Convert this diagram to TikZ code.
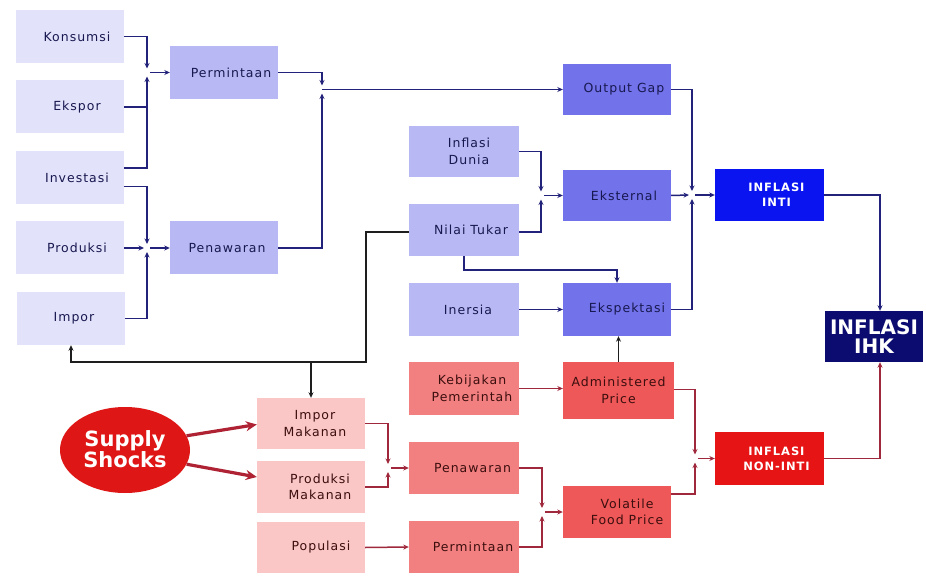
\documentclass[tikz,border=0pt]{standalone}
\usepackage{fontspec}
\setmainfont{DejaVu Sans}[LetterSpace=8]
\newfontfamily\bigfont{DejaVu Sans}
\usetikzlibrary{arrows.meta,calc,shapes.geometric}
\definecolor{lavA}{RGB}{226,226,250}
\definecolor{lavB}{RGB}{184,184,244}
\definecolor{lavC}{RGB}{114,114,234}
\definecolor{intiC}{RGB}{10,20,240}
\definecolor{ihkC}{RGB}{12,12,112}
\definecolor{pinkA}{RGB}{250,198,198}
\definecolor{pinkB}{RGB}{242,128,128}
\definecolor{pinkC}{RGB}{238,88,88}
\definecolor{nonC}{RGB}{230,20,20}
\definecolor{shockC}{RGB}{222,22,22}
\definecolor{navyT}{RGB}{24,24,80}
\definecolor{navyL}{RGB}{34,34,122}
\definecolor{redT}{RGB}{60,14,14}
\definecolor{redL}{RGB}{160,40,60}
\definecolor{darkL}{RGB}{30,30,30}
\newcommand\tin{\hspace*{14pt}}
\begin{document}
\begin{tikzpicture}[x=1pt,y=-1pt,
  box/.style={rectangle, inner sep=0pt, minimum width=108pt, minimum height=53pt,
    align=center, font=\fontsize{12.5}{16.5}\selectfont},
  lbox/.style={box, fill=lavA, text=navyT},
  mbox/.style={box, fill=lavB, text=navyT},
  dbox/.style={box, fill=lavC, text=navyT},
  ibox/.style={box, fill=intiC, text=white, font=\fontsize{11.5}{15}\selectfont\bfseries},
  hbox/.style={box, fill=ihkC, text=white, minimum width=98pt, minimum height=51pt,
    font=\bigfont\fontsize{20}{19}\selectfont\bfseries},
  pa/.style={box, fill=pinkA, text=redT},
  pb/.style={box, fill=pinkB, text=redT},
  pc/.style={box, fill=pinkC, text=redT},
  nbox/.style={box, fill=nonC, text=white, font=\fontsize{11.5}{15}\selectfont\bfseries},
  conn/.style={draw=navyL, line width=1.5pt, -{Stealth[length=5.5pt,width=5pt]}},
  rconn/.style={draw=redL, line width=1.5pt, -{Stealth[length=5.5pt,width=5pt]}},
  kconn/.style={draw=darkL, line width=1.5pt, -{Stealth[length=5.5pt,width=5pt]}},
  sarrow/.style={draw=redL!85!red, line width=3.2pt, -{Stealth[length=11pt,width=10pt]}}
]
\useasboundingbox (0,0) rectangle (926,577);
\fill[white] (0,0) rectangle (926,577);

% left column
\node[lbox] (kons) at (70,36.5) {\tin Konsumsi};
\node[lbox] (eksp) at (70,107) {\tin Ekspor};
\node[lbox] (inv) at (70,177.5) {\tin Investasi};
\node[lbox] (prod) at (70,248) {\tin Produksi};
\node[lbox] (impor) at (71,318.5) {\hspace*{6pt}Impor};

\node[mbox] (perm) at (224,72.5) {\tin Permintaan};
\node[mbox] (pen) at (224,248) {\hspace*{6pt}Penawaran};

\node[mbox, minimum width=110pt, minimum height=51pt] (infd) at (464,151.5) {\hspace*{10pt}Inflasi\\\hspace*{10pt}Dunia};
\node[mbox, minimum width=110pt, minimum height=52pt] (nilai) at (464,230) {\tin Nilai Tukar};
\node[mbox, minimum width=110pt] (iners) at (464,309.5) {\hspace*{8pt}Inersia};

\node[dbox, minimum height=51pt] (outgap) at (617,89.5) {\tin Output Gap};
\node[dbox, minimum height=51pt] (ekst) at (617,195.5) {\tin Eksternal};
\node[dbox] (ekspk) at (617,309.5) {\hspace*{20pt}Ekspektasi};

\node[ibox, minimum width=109pt, minimum height=52pt] (inti) at (769.5,195) {\tin INFLASI\\\tin INTI};
\node[hbox] (ihk) at (874,336.5) {INFLASI\\IHK};

% bottom part
\node[ellipse, fill=shockC, minimum width=130pt, minimum height=86pt, inner sep=0pt,
  text=white, align=center, font=\bigfont\fontsize{21}{20}\selectfont\bfseries] (shock) at (125,450) {\\[-6pt]Supply\\Shocks};

\node[pa, minimum height=51pt] (impmak) at (311,423.5) {\hspace*{8pt}Impor\\\hspace*{8pt}Makanan};
\node[pa, minimum height=52pt] (prodmak) at (311,487) {\hspace*{18pt}Produksi\\\hspace*{18pt}Makanan};
\node[pa, minimum height=51pt] (popul) at (311,547.5) {\hspace*{20pt}Populasi};

\node[pb, minimum width=110pt] (kebij) at (464,388.5) {\hspace*{16pt}Kebijakan\\\hspace*{16pt}Pemerintah};
\node[pb, minimum width=110pt, minimum height=52pt] (penR) at (464,468) {\hspace*{17pt}Penawaran};
\node[pb, minimum width=110pt, minimum height=52pt] (permR) at (464,547) {\hspace*{18pt}Permintaan};

\node[pc, minimum width=111pt, minimum height=57pt] (admin) at (618.5,390.5) {Administered\\Price};
\node[pc, minimum height=52pt] (vol) at (617,512) {\hspace*{20pt}Volatile\\\hspace*{20pt}Food Price};

\node[nbox, minimum width=109pt] (nonint) at (769.5,458.5) {\tin INFLASI\\\tin NON-INTI};

% junctions
\coordinate (J1) at (147,72.5);
\coordinate (J2) at (147,248);
\coordinate (J3) at (322,89.5);
\coordinate (J4) at (541,195.5);
\coordinate (J5) at (692,195);
\coordinate (J6) at (388,468);
\coordinate (J7) at (542,512);
\coordinate (J8) at (695,458.5);
\coordinate (nt1) at (464,270);
\coordinate (n1) at (366,362);

% top connectors
\draw[conn] (kons.east) -| ($(J1)+(0,-4)$);
\draw[conn] (eksp.east) -| ($(J1)+(0,4)$);
\draw[conn,-] ([yshift=9.5pt]inv.east) -| (J1 |- eksp.east);
\draw[conn] ([xshift=3pt]J1) -- (perm.west);

\draw[conn] ([yshift=-9pt]inv.east) -| ($(J2)+(0,-4)$);
\draw[conn] (prod.east) -- ($(J2)+(-3,0)$);
\draw[conn] (impor.east) -| ($(J2)+(0,4)$);
\draw[conn] ([xshift=3pt]J2) -- (pen.west);

\draw[conn] (perm.east) -| ($(J3)+(0,-4)$);
\draw[conn] (pen.east) -| ($(J3)+(0,4)$);
\draw[conn] (J3) -- (outgap.west);

\draw[conn] (infd.east) -| ($(J4)+(0,-4)$);
\draw[conn] ([yshift=-2pt]nilai.east) -| ($(J4)+(0,4)$);
\draw[conn] ([xshift=3pt]J4) -- (ekst.west);

\draw[conn] (nilai.south) -- (nt1) -| (ekspk.north);
\draw[conn] (iners.east) -- (ekspk.west);

\draw[conn] (outgap.east) -| ($(J5)+(0,-4)$);
\draw[conn] (ekst.east) -- ($(J5)+(-3,0)$);
\draw[conn] (ekspk.east) -| ($(J5)+(0,4)$);
\draw[conn] ([xshift=3pt]J5) -- (inti.west);

\draw[conn] (inti.east) -| ([xshift=6pt]ihk.north);

% link from Nilai Tukar to imports
\draw[kconn] ([yshift=-2pt]nilai.west) -| (n1) -| (impor.south);
\draw[kconn] (impmak.north |- n1) -- (impmak.north);

% supply shocks
\draw[sarrow] (shock.13) -- ([yshift=-1pt]impmak.west);
\draw[sarrow] (shock.-13) -- ([yshift=10pt]prodmak.west);

% bottom connectors
\draw[rconn] (impmak.east) -| ($(J6)+(0,-4)$);
\draw[rconn] (prodmak.east) -| ($(J6)+(0,4)$);
\draw[rconn] ([xshift=3pt]J6) -- (penR.west);
\draw[rconn] (popul.east) -- (permR.west);
\draw[rconn] (kebij.east) -- (kebij.east -| admin.west);

\draw[rconn] (penR.east) -| ($(J7)+(0,-4)$);
\draw[rconn] (permR.east) -| ($(J7)+(0,4)$);
\draw[rconn] ([xshift=3pt]J7) -- (vol.west);

\draw[rconn] ([yshift=1pt]admin.east) -| ($(J8)+(0,-4)$);
\draw[rconn] ([yshift=18pt]vol.east) -| ($(J8)+(0,4)$);
\draw[rconn] ([xshift=3pt]J8) -- (nonint.west);

\draw[rconn] (nonint.east) -| ([xshift=6pt]ihk.south);
\draw[kconn] (admin.north) -- (admin.north |- ekspk.south);
\end{tikzpicture}
\end{document}
